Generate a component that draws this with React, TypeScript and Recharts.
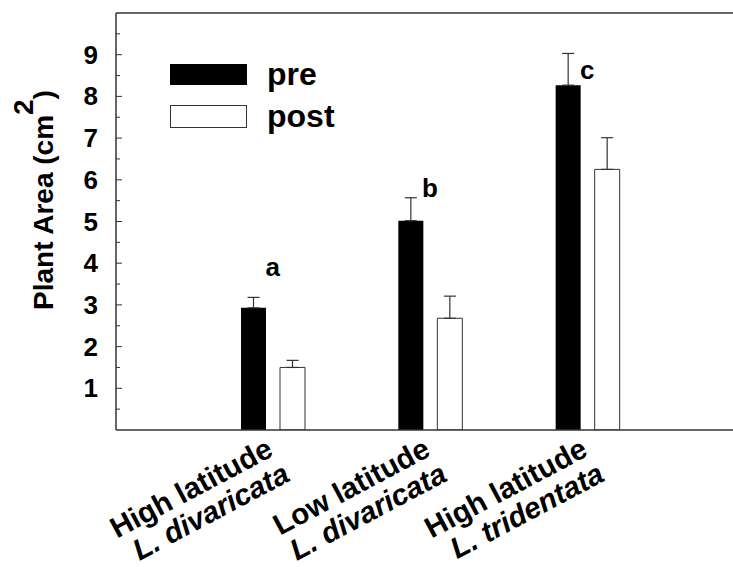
import React from 'react';
import {
  ComposedChart,
  Bar,
  Line,
  XAxis,
  YAxis,
  ErrorBar,
  ReferenceLine,
  Legend,
  LabelList,
} from 'recharts';

const categories = ['HL-div', 'LL-div', 'HL-tri'];
const siteLabels = ['High latitude', 'Low latitude', 'High latitude'];
const speciesLabels = ['L. divaricata', 'L. divaricata', 'L. tridentata'];
const preValues = [2.93, 5.02, 8.27];
const preErrors = [0.25, 0.55, 0.76];
const postValues = [1.5, 2.68, 6.25];
const postErrors = [0.17, 0.53, 0.76];
const groupLetters = ['a', 'b', 'c'];
const letterHeights = [3.69, 5.59, 8.42];
const yTicks = [0.5, 1, 1.5, 2, 2.5, 3, 3.5, 4, 4.5, 5, 5.5, 6, 6.5, 7, 7.5, 8, 8.5, 9, 9.5];
const yDomain = [0, 10];
const seriesOrder = ['pre', 'post'];

const data = categories.map((c, i) => ({
  cat: c,
  pre: preValues[i],
  preErr: [0, preErrors[i]],
  post: postValues[i],
  postErr: [0, postErrors[i]],
  letter: groupLetters[i],
  letterY: letterHeights[i],
}));

const FONT = "'Liberation Sans', Arial, Helvetica, sans-serif";
const AXIS = '#333';

const YTick = (props: any) => {
  const { x, y, payload } = props;
  const v = payload.value;
  const major = Number.isInteger(v);
  return (
    <g>
      <line x1={x + 18} y1={y} x2={x + 18 + (major ? 6 : 4)} y2={y} stroke={AXIS} strokeWidth={1} />
      {major && (
        <text
          x={x}
          y={y}
          dy={9}
          textAnchor="end"
          fontFamily={FONT}
          fontWeight="bold"
          fontSize={26}
          fill="#000"
        >
          {v}
        </text>
      )}
    </g>
  );
};

const XTick = (props: any) => {
  const { x, y, payload } = props;
  const i = payload.index;
  return (
    <g transform={`translate(${x + 2},${y + 25}) rotate(-28)`}>
      <text textAnchor="end" fontFamily={FONT} fontWeight="bold" fontSize={29.5} fill="#000">
        <tspan x={0} y={0}>{siteLabels[i]}</tspan>
        <tspan x={3} y={30} fontStyle="italic">{speciesLabels[i]}</tspan>
      </text>
    </g>
  );
};

const YTitle = (props: any) => {
  const vb = props.viewBox || { x: 56, y: 13, width: 60, height: 417 };
  const bx = vb.x - 3;
  const by = vb.y + vb.height - 120;
  return (
    <text
      transform={`translate(${bx},${by}) rotate(-90)`}
      fontFamily={FONT}
      fontWeight="bold"
      fontSize={28}
      fill="#000"
    >
      <tspan>Plant Area (cm</tspan>
      <tspan dy={-20}>2</tspan>
      <tspan dy={20}>)</tspan>
    </text>
  );
};

const renderLetter = (props: any) => {
  const { x, y, value } = props;
  return (
    <text x={x} y={y} textAnchor="middle" fontFamily={FONT} fontWeight="bold" fontSize={26} fill="#000">
      {value}
    </text>
  );
};

const renderLegend = (props: any) => {
  const items = seriesOrder
    .map((k) => (props.payload || []).find((p: any) => p.dataKey === k))
    .filter(Boolean);
  return (
    <div>
      {items.map((p: any) => {
        const filled = p.dataKey === 'pre';
        return (
          <div key={p.dataKey} style={{ display: 'flex', alignItems: 'center', height: 42 }}>
            <div
              style={{
                width: filled ? 77 : 75,
                height: 21,
                background: filled ? '#000' : '#fff',
                border: filled ? 'none' : `1px solid ${AXIS}`,
              }}
            />
            <span
              style={{
                marginLeft: 20,
                fontFamily: FONT,
                fontWeight: 'bold',
                fontSize: 32,
                color: '#000',
                lineHeight: '32px',
              }}
            >
              {p.value}
            </span>
          </div>
        );
      })}
    </div>
  );
};

export default function App() {
  return (
    <div
      style={{
        position: 'absolute',
        left: 0,
        top: 0,
        width: 733,
        height: 567,
        overflow: 'hidden',
        background: '#fff',
      }}
    >
      <ComposedChart
        width={760}
        height={567}
        data={data}
        margin={{ top: 13, right: 16, bottom: 0, left: 56 }}
        barSize={25}
        barGap={14}
      >
        <XAxis
          dataKey="cat"
          height={137}
          padding={{ left: 78, right: 78 }}
          axisLine={{ stroke: AXIS, strokeWidth: 1.5 }}
          tickLine={false}
          tickSize={0}
          tickMargin={0}
          tick={<XTick />}
          interval={0}
        />
        <YAxis
          type="number"
          domain={yDomain}
          ticks={yTicks}
          width={60}
          axisLine={{ stroke: AXIS, strokeWidth: 1.5 }}
          tickLine={false}
          tickSize={0}
          tickMargin={18}
          tick={<YTick />}
          interval={0}
          allowDataOverflow
          label={<YTitle />}
        />
        <ReferenceLine y={10} stroke={AXIS} strokeWidth={1.5} ifOverflow="extendDomain" />
        <Legend
          layout="vertical"
          align="center"
          verticalAlign="middle"
          content={renderLegend}
          wrapperStyle={{ left: 170, top: 53, width: 200 }}
        />
        <Bar dataKey="pre" name="pre" fill="#000" isAnimationActive={false}>
          <ErrorBar dataKey="preErr" direction="y" width={6} stroke={AXIS} strokeWidth={1.2} />
        </Bar>
        <Bar
          dataKey="post"
          name="post"
          fill="#fff"
          stroke={AXIS}
          strokeWidth={1}
          isAnimationActive={false}
        >
          <ErrorBar dataKey="postErr" direction="y" width={6} stroke={AXIS} strokeWidth={1.2} />
        </Bar>
        <Line
          dataKey="letterY"
          stroke="none"
          dot={false}
          activeDot={false}
          legendType="none"
          isAnimationActive={false}
        >
          <LabelList dataKey="letter" content={renderLetter} />
        </Line>
      </ComposedChart>
    </div>
  );
}
